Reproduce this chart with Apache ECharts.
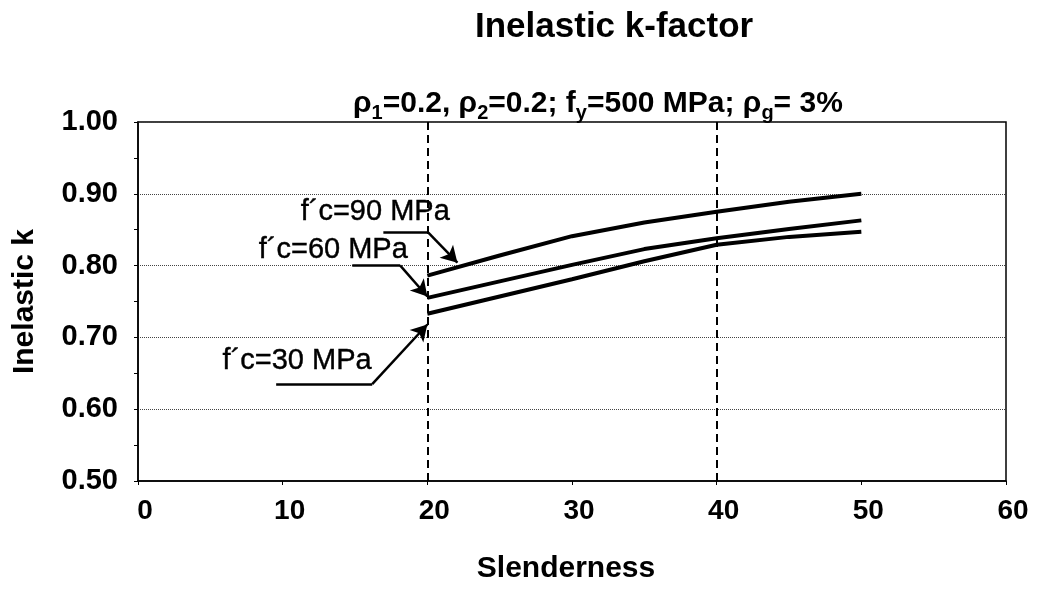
<!DOCTYPE html>
<html>
<head>
<meta charset="utf-8">
<title>Inelastic k-factor</title>
<script src="https://cdn.jsdelivr.net/npm/echarts@6/dist/echarts.min.js"></script>
<style>
    html, body {margin: 0; padding: 0; background: #fff;}
    #chart {width: 1037px; height: 589px;}
</style>
</head>
<body>
<div id="chart"></div>
<script>
var FONT = "'Liberation Sans', Arial, sans-serif";

// data
var slenderness = [20, 25, 30, 35, 40, 45, 50];
var k90 = [0.786, 0.814, 0.841, 0.860, 0.875, 0.889, 0.900];
var k60 = [0.755, 0.778, 0.801, 0.823, 0.838, 0.851, 0.863];
var k30 = [0.733, 0.757, 0.781, 0.806, 0.829, 0.840, 0.847];
var seriesNames = ['f´c=90 MPa', 'f´c=60 MPa', 'f´c=30 MPa'];
var dashedAt = [20, 40];

// annotations (data space): text position, leader start, leader corner, arrow tip
var labelPos = [[16.4, 0.874], [13.5, 0.822], [11.0, 0.667]];
var leaderStart = [[16.96, 0.846], [14.81, 0.800], [9.55, 0.635]];
var leaderCorner = [[20.07, 0.846], [18.13, 0.800], [16.19, 0.635]];
var arrowTip = [[22.08, 0.804], [20.0, 0.757], [20.0, 0.718]];

function pairs(xs, ys) {
    var out = [];
    for (var i = 0; i < xs.length; i++) out.push([xs[i], ys[i]]);
    return out;
}

var chart = echarts.init(document.getElementById('chart'));

var hLines = [], aLines = [], texts = [];
for (var i = 0; i < seriesNames.length; i++) {
    hLines.push([{coord: leaderStart[i]}, {coord: leaderCorner[i]}]);
    aLines.push([{coord: leaderCorner[i]}, {coord: arrowTip[i]}]);
    texts.push([labelPos[i][0], labelPos[i][1], seriesNames[i]]);
}

var curveStyle = {color: '#000', width: 4};

var option = {
    animation: false,
    backgroundColor: '#fff',
    title: [{
        text: 'Inelastic k-factor',
        left: 470, top: 5,
        textStyle: {fontFamily: FONT, fontWeight: 'bold', fontSize: 35, color: '#000'}
    }, {
        text: '{m|ρ}{s|1}{m|=0.2, ρ}{s|2}{m|=0.2; f}{s|y}{m|=500 MPa; ρ}{s|g}{m|= 3%}',
        left: 348, top: 84,
        textStyle: {
            rich: {
                m: {fontFamily: FONT, fontWeight: 'bold', fontSize: 30, color: '#000',
                    verticalAlign: 'top', lineHeight: 30},
                s: {fontFamily: FONT, fontWeight: 'bold', fontSize: 20, color: '#000',
                    verticalAlign: 'top', lineHeight: 20, padding: [14, 0, 0, 0]}
            }
        }
    }],
    grid: {left: 138, right: 31, top: 122, bottom: 107, show: true,
        borderColor: '#000', borderWidth: 1.5, backgroundColor: '#fff'},
    xAxis: {
        type: 'value', min: 0, max: 60, interval: 10,
        name: 'Slenderness', nameLocation: 'middle', nameGap: 73,
        nameTextStyle: {fontFamily: FONT, fontWeight: 'bold', fontSize: 30, color: '#000',
            padding: [0, 12, 0, 0]},
        axisLine: {show: true, lineStyle: {color: '#000', width: 1.5}},
        axisTick: {show: true, inside: false, length: 4, lineStyle: {color: '#000'}},
        axisLabel: {fontFamily: FONT, fontWeight: 'bold', fontSize: 28, color: '#000', margin: 16,
            padding: [0, 0, 0, 14]},
        splitLine: {show: false}
    },
    yAxis: {
        type: 'value', min: 0.5, max: 1.0, interval: 0.1,
        name: 'Inelastic k', nameLocation: 'middle', nameGap: 98,
        nameTextStyle: {fontFamily: FONT, fontWeight: 'bold', fontSize: 30, color: '#000'},
        axisLine: {show: true, lineStyle: {color: '#000', width: 1.5}},
        axisTick: {show: true, inside: false, length: 4, lineStyle: {color: '#000'}},
        minorTick: {show: true, splitNumber: 2, length: 4, lineStyle: {color: '#000'}},
        axisLabel: {fontFamily: FONT, fontWeight: 'bold', fontSize: 29, color: '#000', margin: 20,
            padding: [10, 0, 0, 0],
            formatter: function (v) { return v.toFixed(2); }},
        splitLine: {show: true, lineStyle: {color: '#444', width: 1, type: [1, 1]}}
    },
    series: [{
        name: seriesNames[0], type: 'line', data: pairs(slenderness, k90),
        symbol: 'none', lineStyle: curveStyle, z: 5,
        markLine: {
            silent: true, symbol: 'none', label: {show: false},
            lineStyle: {color: '#000', width: 2, type: [8, 5]},
            data: dashedAt.map(function (x) { return {xAxis: x}; })
        }
    }, {
        name: seriesNames[1], type: 'line', data: pairs(slenderness, k60),
        symbol: 'none', lineStyle: curveStyle, z: 5
    }, {
        name: seriesNames[2], type: 'line', data: pairs(slenderness, k30),
        symbol: 'none', lineStyle: curveStyle, z: 5
    }, {
        name: 'leaders', type: 'line', data: [],
        markLine: {
            silent: true, symbol: 'none', label: {show: false},
            lineStyle: {color: '#000', width: 2.5, type: 'solid'},
            data: hLines
        }
    }, {
        name: 'arrows', type: 'line', data: [],
        markLine: {
            silent: true, symbol: ['none', 'arrow'], symbolSize: [14, 16], label: {show: false},
            lineStyle: {color: '#000', width: 2.5, type: 'solid'},
            data: aLines
        }
    }, {
        name: 'labels', type: 'scatter', data: texts, symbolSize: 0, silent: true, z: 6,
        itemStyle: {opacity: 1, color: '#000'},
        label: {show: true, position: 'inside', fontFamily: FONT, fontSize: 29, color: '#000',
            textBorderColor: '#000', textBorderWidth: 0.4,
            opacity: 1, formatter: function (p) { return p.value[2]; }}
    }]
};
chart.setOption(option);
</script>
</body>
</html>
